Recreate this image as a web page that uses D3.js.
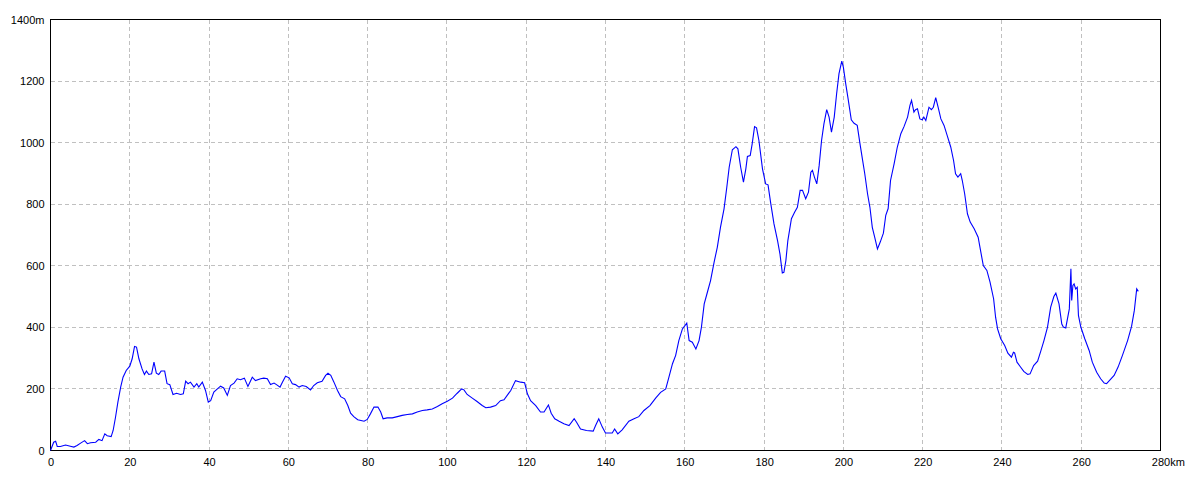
<!DOCTYPE html>
<html>
<head>
<meta charset="utf-8">
<script src="https://cdn.jsdelivr.net/npm/d3@7"></script>
<style>
  html, body { margin: 0; padding: 0; background: #fff; }
  svg { display: block; }
  text { font-family: "Liberation Sans", "DejaVu Sans", sans-serif; font-size: 11px; fill: #000; }
</style>
</head>
<body>
<svg id="chart" width="1200" height="480"></svg>
<script>
// distance along route (km)
const distanceKm = [
  0, 0.8, 1.3, 1.7, 2.5, 3.8, 5.0, 5.9, 6.7, 7.6, 8.6, 9.3, 10.1, 11.4, 12.2, 13.0, 13.7, 14.3, 15.3, 15.8, 16.4, 17.0, 17.7, 18.3, 19.1, 20.0, 20.6, 21.2, 21.7, 22.3, 23.1, 23.7, 24.2, 24.8, 25.5, 26.1, 26.7, 27.3, 27.9, 28.8, 29.4, 30.1, 30.9, 31.8, 32.8, 33.5, 34.1, 34.7, 35.3, 36.2, 36.9, 37.4, 38.3, 39.1, 39.8, 40.4, 41.2, 42.1, 42.9, 43.7, 44.6, 45.4, 46.3, 47.1, 47.9, 48.9, 49.8, 50.9, 51.7, 53.0, 53.8, 54.7, 55.5, 56.4, 57.0, 57.9, 58.5, 59.3, 60.2, 61.0, 61.8, 62.7, 63.5, 64.5, 65.6, 66.4, 67.3, 68.5, 69.4, 70.0, 70.7, 71.5, 72.4, 73.2,
  74.2, 75.0, 75.7, 76.5, 77.5, 79.1, 79.9, 80.7, 81.6, 82.6, 83.3, 83.9, 84.9, 86.2, 87.5, 88.7, 90.0, 91.3, 92.5, 93.8, 95.0, 96.3, 97.6, 98.8, 100.1, 101.4, 102.6, 103.7, 104.3, 105.1, 106.4, 107.6, 108.9, 109.8, 111.0, 112.3, 113.5, 114.4, 115.2, 116.1, 117.3, 118.6, 119.6, 120.3, 121.1, 122.4, 123.6, 124.5, 125.6, 126.3, 127.2, 128.3, 129.5, 130.8, 132.1, 132.7, 133.7, 135.2, 136.9, 137.5, 138.3, 139.2, 140.0, 141.7, 142.3, 143.1, 144.2, 145.9, 147.2, 148.4, 149.7, 151.2,
  152.7, 153.9, 155.2, 156.0, 156.9, 157.7, 158.5, 159.4, 160.5, 161.1, 161.9, 162.8, 163.6, 164.2, 164.9, 165.7, 166.5, 167.4, 168.2, 169.0, 169.9, 170.6, 171.2, 172.0, 172.9, 173.4, 174.1, 174.8, 175.4, 175.8, 176.5, 177.0, 177.6, 178.1, 178.7, 179.6, 180.4, 181.0, 181.7, 182.5, 183.4, 184.0, 184.6, 185.0, 185.5, 186.0, 186.9, 187.7, 188.4, 189.1, 189.7, 190.5, 191.2, 191.8, 192.2, 192.7, 193.3, 193.9, 194.5, 195.1, 195.8, 196.4, 197.0, 197.7, 198.3, 198.9, 199.6, 200.0, 200.6, 201.2, 202.0, 202.7, 203.5, 204.2, 204.8, 205.4, 206.1, 206.7, 207.3, 207.9, 208.6, 209.3, 210.1, 210.7, 211.3, 211.9, 212.8, 213.6, 214.5, 215.3,
  216.2, 216.8, 217.2, 217.8, 218.2, 218.7, 219.3, 219.9, 220.3, 220.8, 221.6, 222.2, 222.7, 223.3, 223.9, 224.6, 225.4, 226.2, 227.1, 227.8, 228.3, 228.9, 229.6, 230.0, 230.6, 231.3, 232.0, 233.0, 234.0, 234.6, 235.3, 236.2, 237.0, 237.9, 238.4, 238.9, 239.7, 240.7, 241.5, 242.4, 242.9, 243.2, 243.8, 244.6, 245.5, 246.5, 247.1, 248.0, 249.0, 249.8, 250.6, 251.5, 252.3, 253.1, 253.6, 254.4, 255.1, 255.5, 256.1, 257.0, 257.4, 257.6, 257.9, 258.2, 258.6, 259.0, 259.3, 259.9, 260.9, 262.0, 262.8, 263.9, 264.9, 265.8, 266.4, 267.5, 268.3, 269.3, 270.4, 271.7, 272.7, 273.4, 274.0, 274.4
];
// elevation (m)
const elevationM = [
  0, 27, 30, 13, 13, 18, 14, 11, 16, 24, 32, 22, 25, 27, 36, 32, 54, 48, 45, 65, 108, 157, 206, 238, 260, 274, 298, 338, 336, 298, 265, 247, 258, 247, 249, 287, 251, 247, 258, 258, 217, 214, 182, 186, 182, 184, 225, 217, 222, 206, 217, 206, 222, 195, 157, 162, 190, 200, 209, 203, 179, 211, 219, 233, 230, 235, 208, 238, 227, 233, 235, 233, 214, 219, 214, 206, 222, 241, 236, 217, 214, 206, 211, 208, 197, 211, 220, 225, 244, 251, 244, 222, 195, 175,
  168, 146, 121, 110, 100, 95, 101, 119, 141, 141, 125, 103, 106, 106, 110, 114, 117, 119, 125, 130, 132, 135, 143, 152, 160, 170, 186, 200, 197, 182, 170, 159, 146, 139, 141, 146, 162, 165, 179, 195, 227, 222, 220, 184, 162, 146, 125, 125, 148, 121, 103, 95, 87, 81, 103, 92, 70, 65, 63, 81, 103, 76, 57, 57, 70, 54, 67, 95, 103, 110, 130, 146,
  171, 189, 200, 238, 282, 309, 357, 395, 414, 357, 352, 330, 357, 401, 476, 514, 552, 612, 660, 725, 785, 855, 920, 977, 987, 980, 920, 872, 915, 955, 958, 996, 1052, 1048, 1007, 915, 866, 863, 801, 736, 682, 639, 577, 579, 617, 682, 753, 774, 790, 845, 845, 818, 839, 904, 910, 888, 866, 926, 1007, 1061, 1107, 1083, 1034, 1083, 1159, 1224, 1265, 1245, 1191, 1142, 1074, 1063, 1056, 996, 947, 899, 834, 790, 725, 693, 655, 677, 706, 764, 786, 877, 931, 985, 1029, 1052,
  1083, 1121, 1137, 1099, 1107, 1110, 1077, 1074, 1083, 1072, 1115, 1107, 1115, 1146, 1115, 1077, 1056, 1023, 985, 942, 899, 888, 899, 877, 834, 769, 742, 720, 693, 650, 601, 585, 547, 493, 433, 395, 363, 341, 316, 303, 319, 317, 287, 273, 257, 247, 249, 276, 290, 323, 357, 401, 466, 500, 511, 476, 411, 401, 398, 460, 590, 487, 536, 541, 525, 530, 439, 401, 363, 325, 287, 254, 233, 219, 217, 233, 244, 271, 309, 357, 403, 455, 525, 517
];
const xTicks = [0, 20, 40, 60, 80, 100, 120, 140, 160, 180, 200, 220, 240, 260, 280];
const yTicks = [0, 200, 400, 600, 800, 1000, 1200, 1400];
const xUnit = "km";
const yUnit = "m";

const n = Math.min(distanceKm.length, elevationM.length);
const points = d3.range(n).map(i => ({ d: distanceKm[i], e: elevationM[i] }));

const svg = d3.select("#chart");
const plotLeft = 50.5, plotRight = 1160.5, plotTop = 19.5, plotBottom = 450.5;

const x = d3.scaleLinear().domain([0, 280]).range([plotLeft, plotRight]);
const y = d3.scaleLinear().domain([0, 1400]).range([plotBottom, plotTop]);

// grid
const grid = svg.append("g").attr("shape-rendering", "crispEdges")
  .attr("stroke", "#c0c0c0").attr("stroke-dasharray", "4,3").attr("stroke-width", 1);
grid.selectAll("line.v").data(xTicks.filter(t => t > 0 && t < 280)).join("line")
  .attr("class", "v")
  .attr("x1", d => Math.floor(x(d)) + 0.5).attr("x2", d => Math.floor(x(d)) + 0.5)
  .attr("y1", plotTop).attr("y2", plotBottom);
grid.selectAll("line.h").data(yTicks.filter(t => t > 0 && t < 1400)).join("line")
  .attr("class", "h")
  .attr("y1", d => Math.floor(y(d)) + 0.5).attr("y2", d => Math.floor(y(d)) + 0.5)
  .attr("x1", plotLeft).attr("x2", plotRight);

// frame
svg.append("rect").attr("x", plotLeft).attr("y", plotTop)
  .attr("width", plotRight - plotLeft).attr("height", plotBottom - plotTop)
  .attr("fill", "none").attr("stroke", "#000").attr("stroke-width", 1)
  .attr("shape-rendering", "crispEdges");

// axes (labels only)
const xAxis = d3.axisBottom(x).tickValues(xTicks).tickSize(0).tickPadding(0)
  .tickFormat(d => String(d));
const gx = svg.append("g").attr("transform", `translate(0,${plotBottom})`).call(xAxis);
gx.select(".domain").remove();
gx.selectAll("text").attr("dy", null).attr("y", 15).attr("fill", "#000")
  .style("font-family", '"Liberation Sans", "DejaVu Sans", sans-serif').style("font-size", "11px");
gx.selectAll(".tick").filter(d => d === 280).select("text").each(function() {
  const t = d3.select(this);
  const w = this.getComputedTextLength();
  t.attr("text-anchor", "start").attr("x", -w / 2);
  t.append("tspan").text(xUnit);
});

const yAxis = d3.axisLeft(y).tickValues(yTicks).tickSize(0).tickPadding(6)
  .tickFormat(d => d === 1400 ? d + yUnit : String(d));
const gy = svg.append("g").attr("transform", `translate(${plotLeft},0)`).call(yAxis);
gy.select(".domain").remove();
gy.selectAll("text").attr("fill", "#000")
  .style("font-family", '"Liberation Sans", "DejaVu Sans", sans-serif').style("font-size", "11px");

// profile line
const line = d3.line().x(p => x(p.d)).y(p => y(p.e));
svg.append("path").datum(points)
  .attr("d", line)
  .attr("fill", "none").attr("stroke", "#0000ff").attr("stroke-width", 1.1);
</script>
</body>
</html>
